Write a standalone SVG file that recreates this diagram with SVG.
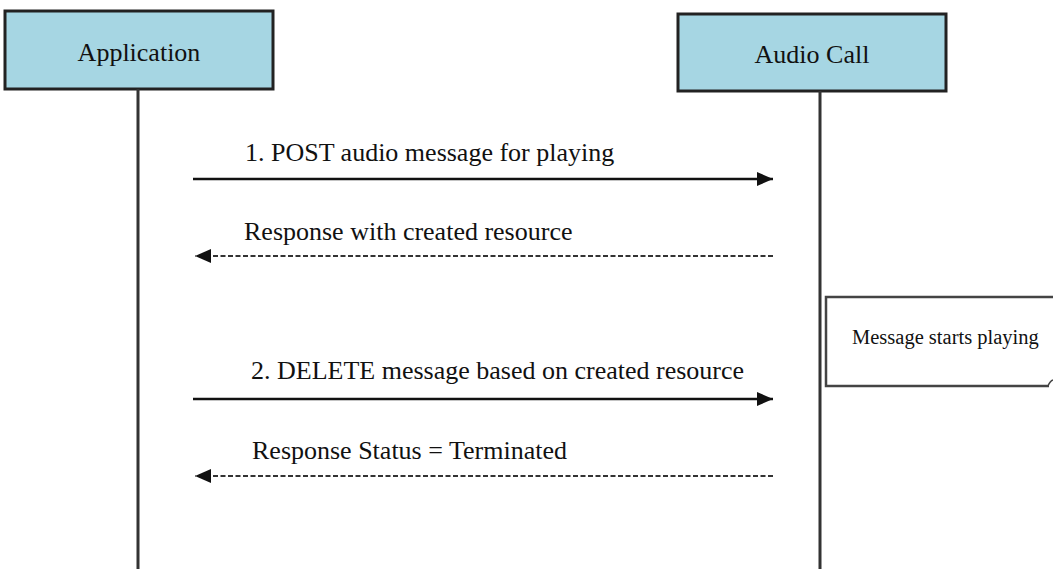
<svg xmlns="http://www.w3.org/2000/svg" width="1053" height="569" viewBox="0 0 1053 569">
<style>
.actor{fill:#a6d6e3;stroke:#222;stroke-width:3}
.life{stroke:#333;stroke-width:3;fill:none}
.lbl{font-family:"Liberation Serif","Times New Roman",serif;font-size:26px;fill:#111}
.small{font-family:"Liberation Serif","Times New Roman",serif;font-size:20.5px;fill:#111}
.msg{stroke:#111;stroke-width:2.5;fill:none}
.ret{stroke:#333;stroke-width:2;stroke-dasharray:5 2.5;fill:none}
.note{fill:#fff;stroke:#444;stroke-width:2.5}
</style>
<defs>
<marker id="ah" markerUnits="userSpaceOnUse" markerWidth="17" markerHeight="14" refX="16" refY="7" orient="auto">
<path d="M0,0 L16,7 L0,14 Z" fill="#111"/>
</marker>
</defs>
<g id="application">
<rect class="actor" x="5" y="11" width="268" height="78"/>
<text class="lbl" x="139" y="61" text-anchor="middle">Application</text>
</g>
<g id="audio-call">
<rect class="actor" x="678" y="14" width="268" height="77"/>
<text class="lbl" x="812" y="63" text-anchor="middle">Audio Call</text>
</g>
<g id="note">
<path class="note" d="M1056,297 L826,297 L826,386 L1049,386"/>
<path d="M1048,386 Q1050,381 1053,380" fill="none" stroke="#444" stroke-width="1.5"/>
<text class="small" x="852" y="344">Message starts playing</text>
</g>
<g id="connectors">
<line class="life" x1="138" y1="89" x2="138" y2="569"/>
<line class="life" x1="820" y1="91" x2="820" y2="569"/>
<line class="msg" x1="193" y1="179" x2="773" y2="179" marker-end="url(#ah)"/>
<line class="ret" x1="773" y1="256" x2="195" y2="256" marker-end="url(#ah)"/>
<line class="msg" x1="193" y1="399" x2="773" y2="399" marker-end="url(#ah)"/>
<line class="ret" x1="773" y1="476" x2="195" y2="476" marker-end="url(#ah)"/>
</g>
<g id="labels">
<text class="lbl" x="245" y="161">1. POST audio message for playing</text>
<text class="lbl" x="244" y="240">Response with created resource</text>
<text class="lbl" x="251" y="379">2. DELETE message based on created resource</text>
<text class="lbl" x="252" y="459">Response Status = Terminated</text>
</g>
</svg>
